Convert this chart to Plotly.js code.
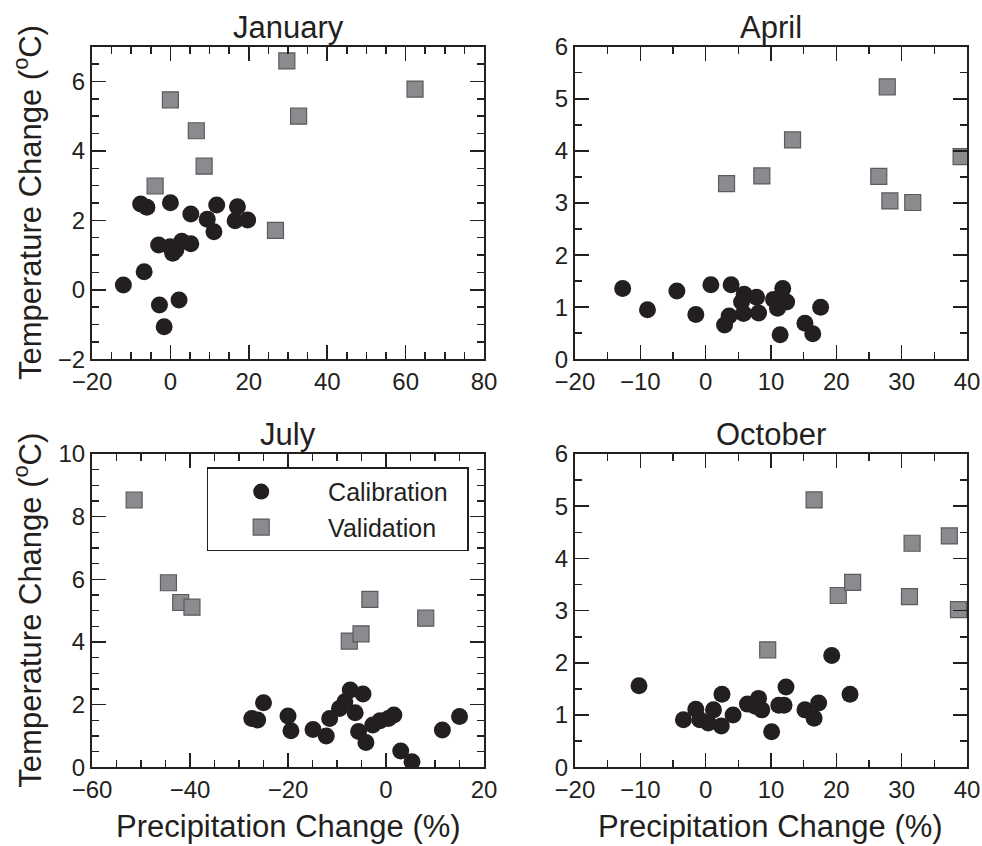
<!DOCTYPE html>
<html>
<head>
<meta charset="utf-8">
<script src="https://cdn.plot.ly/plotly-3.0.1.min.js"></script>
<style>html,body{margin:0;padding:0;background:#fff}#chart{width:982px;height:846px}</style>
</head>
<body>
<div id="chart"></div>
<script>
// ---- Data ----
var panelTitles = ["January", "April", "July", "October"];
var seriesNames = ["Calibration", "Validation"];

var janCalX = [-12.0, -6.7, -2.8, -1.6, 2.2, -7.6, -6.0, 0.0, 5.2, 11.8, 9.4, 11.1, 17.1, 16.5, 19.7, -3.0, -0.1, 0.6, 1.4, 2.9, 5.2];
var janCalY = [0.14, 0.52, -0.44, -1.06, -0.29, 2.47, 2.38, 2.51, 2.18, 2.44, 2.03, 1.67, 2.39, 1.99, 2.01, 1.29, 1.24, 1.05, 1.15, 1.40, 1.33];
var janValX = [-3.9, 0.0, 6.6, 8.6, 26.8, 29.7, 32.7, 62.4];
var janValY = [2.99, 5.47, 4.58, 3.56, 1.71, 6.59, 5.00, 5.78];

var aprCalX = [-12.7, -8.9, -4.4, -1.5, 0.8, 3.9, 2.9, 3.6, 5.9, 5.5, 7.8, 5.8, 8.1, 10.4, 11.8, 12.4, 11.0, 11.4, 15.2, 16.4, 17.6];
var aprCalY = [1.36, 0.95, 1.31, 0.86, 1.43, 1.43, 0.66, 0.83, 1.25, 1.10, 1.19, 0.88, 0.89, 1.15, 1.36, 1.10, 0.98, 0.47, 0.69, 0.49, 1.00];
var aprValX = [3.2, 8.6, 13.3, 26.5, 27.8, 28.2, 31.7, 39.1];
var aprValY = [3.37, 3.52, 4.21, 3.51, 5.23, 3.04, 3.01, 3.89];

var julCalX = [-27.4, -26.2, -25.0, -20.0, -19.4, -14.9, -12.2, -11.5, -9.5, -8.4, -7.3, -6.3, -4.7, -5.6, -4.1, -2.7, -1.2, 0.5, 1.6, 3.0, 5.3, 11.5, 15.0];
var julCalY = [1.56, 1.51, 2.06, 1.64, 1.17, 1.21, 1.00, 1.56, 1.88, 2.09, 2.47, 1.74, 2.34, 1.14, 0.79, 1.35, 1.49, 1.56, 1.67, 0.52, 0.18, 1.19, 1.62];
var julValX = [-51.4, -44.4, -41.9, -39.6, -7.5, -5.1, -3.3, 8.1];
var julValY = [8.53, 5.89, 5.26, 5.11, 4.03, 4.26, 5.36, 4.76];

var octCalX = [-10.2, -3.4, -1.5, -0.9, 0.4, 1.2, 2.4, 2.5, 4.2, 6.4, 8.1, 7.6, 8.6, 10.1, 11.2, 12.0, 12.3, 15.2, 16.6, 17.3, 19.3, 22.1];
var octCalY = [1.56, 0.91, 1.11, 0.91, 0.85, 1.10, 0.79, 1.40, 1.00, 1.21, 1.32, 1.17, 1.10, 0.68, 1.19, 1.19, 1.54, 1.10, 0.94, 1.23, 2.14, 1.40];
var octValX = [9.5, 16.6, 20.3, 22.5, 31.2, 31.6, 37.3, 38.7];
var octValY = [2.25, 5.12, 3.29, 3.54, 3.27, 4.29, 4.43, 3.02];

var xTitle = "Precipitation Change (%)";
var yTitle = "Temperature Change (<sup>o</sup>C)";

// ---- Styling ----
var INK = "#231f20";
var FONT = "Liberation Sans, Arial, Helvetica, sans-serif";
var calMarker = {symbol: "circle", size: 17, color: INK, line: {width: 0}};
var valMarker = {symbol: "square", size: 16, color: "#8a8b8e", line: {width: 1.2, color: "#5a5b5d"}};
var PAD = "\u00a0\u00a0";

var sets = [
  [janCalX, janCalY, janValX, janValY],
  [aprCalX, aprCalY, aprValX, aprValY],
  [julCalX, julCalY, julValX, julValY],
  [octCalX, octCalY, octValX, octValY]
];

var traces = [];
sets.forEach(function (s, i) {
  var ax = i === 0 ? "" : String(i + 1);
  var showLeg = (i === 2);
  traces.push({x: s[0], y: s[1], type: "scatter", mode: "markers", name: PAD + seriesNames[0] + PAD,
    xaxis: "x" + ax, yaxis: "y" + ax, marker: calMarker, showlegend: showLeg, legendgroup: "cal"});
  traces.push({x: s[2], y: s[3], type: "scatter", mode: "markers", name: PAD + seriesNames[1] + PAD,
    xaxis: "x" + ax, yaxis: "y" + ax, marker: valMarker, showlegend: showLeg, legendgroup: "val"});
});

var col1 = [0.0937, 0.4929], col2 = [0.5855, 0.9847];
var row1 = [0.5753, 0.9448], row2 = [0.0930, 0.4634];

function axis(domain, range, dtick, minorDtick, anchor) {
  return {
    domain: domain, range: range, autorange: false, anchor: anchor,
    tickmode: "linear", tick0: 0, dtick: dtick,
    ticks: "inside", ticklen: 14, tickwidth: 1.5, tickcolor: INK,
    minor: {dtick: minorDtick, tick0: 0, ticks: "inside", ticklen: 7, tickwidth: 1.5, tickcolor: INK, showgrid: false},
    showline: true, linewidth: 2, linecolor: INK, mirror: "ticks",
    showgrid: false, zeroline: false,
    tickfont: {family: FONT, size: 24, color: INK},
    fixedrange: true
  };
}

var layout = {
  width: 982, height: 846,
  margin: {l: 0, r: 0, t: 0, b: 0, pad: 0},
  paper_bgcolor: "#fff", plot_bgcolor: "#fff",
  font: {family: FONT, color: INK},
  showlegend: true,
  legend: {
    x: 0.2105, y: 0.4476, xanchor: "left", yanchor: "top",
    bgcolor: "#fff", bordercolor: INK, borderwidth: 1.5,
    font: {family: FONT, size: 25, color: INK},
    itemwidth: 96, tracegroupgap: 0
  },
  xaxis: axis(col1, [-20, 80], 20, 5, "y"),
  yaxis: axis(row1, [-2, 7], 2, 0.5, "x"),
  xaxis2: axis(col2, [-20, 40], 10, 5, "y2"),
  yaxis2: axis(row1, [0, 6], 1, 0.5, "x2"),
  xaxis3: axis(col1, [-60, 20], 20, 5, "y3"),
  yaxis3: axis(row2, [0, 10], 2, 0.5, "x3"),
  xaxis4: axis(col2, [-20, 40], 10, 5, "y4"),
  yaxis4: axis(row2, [0, 6], 1, 0.5, "x4"),
  annotations: []
};

var cols = [col1, col2, col1, col2];
var rows = [row1, row1, row2, row2];
panelTitles.forEach(function (t, i) {
  layout.annotations.push({
    text: t, xref: "paper", yref: "paper",
    x: (cols[i][0] + cols[i][1]) / 2, y: rows[i][1],
    xanchor: "center", yanchor: "bottom", showarrow: false,
    font: {family: FONT, size: 31, color: INK}
  });
});
[row1, row2].forEach(function (r) {
  layout.annotations.push({
    text: yTitle, xref: "paper", yref: "paper",
    x: 28 / 982, y: (r[0] + r[1]) / 2, xanchor: "center", yanchor: "middle",
    textangle: -90, showarrow: false,
    font: {family: FONT, size: 31, color: INK}
  });
});
[col1, col2].forEach(function (c) {
  layout.annotations.push({
    text: xTitle, xref: "paper", yref: "paper",
    x: (c[0] + c[1]) / 2, y: 0, xanchor: "center", yanchor: "bottom",
    showarrow: false,
    font: {family: FONT, size: 31, color: INK}
  });
});

Plotly.newPlot("chart", traces, layout, {staticPlot: true, displayModeBar: false});
</script>
</body>
</html>
